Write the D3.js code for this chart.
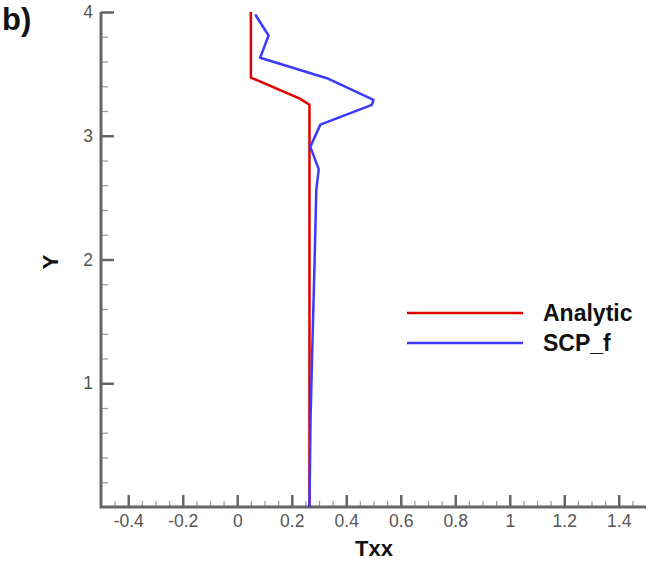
<!DOCTYPE html>
<html><head><meta charset="utf-8">
<script src="https://cdn.jsdelivr.net/npm/d3@7"></script>
<style>body{margin:0;background:#fff}svg{display:block}</style>
</head><body>
<script>
const xTicks = [-0.4,-0.2,0,0.2,0.4,0.6,0.8,1,1.2,1.4];
const yTicks = [1,2,3,4];
const seriesNames = ["Analytic","SCP_f"];
const seriesColors = ["#e00000","#3a3aff"];
const analyticX = [0.05,0.05,0.23,0.265,0.265];
const analyticY = [4.0,3.47,3.30,3.25,0.0];
const scpX = [0.066,0.115,0.084,0.329,0.50,0.494,0.305,0.268,0.299,0.29,0.284,0.275,0.269,0.265];
const scpY = [3.98,3.81,3.63,3.465,3.29,3.25,3.09,2.91,2.73,2.56,2.0,1.25,0.71,0.0];

const W=658,H=562;
const svg=d3.select("body").append("svg").attr("width",W).attr("height",H);
const x=d3.scaleLinear().domain([-0.5,1.5]).range([101,646]);
const y=d3.scaleLinear().domain([0,4]).range([507,12]);
const axisCol="#666", labCol="#555";
const font="'Liberation Sans', Arial, sans-serif";

const xMinor=d3.range(-0.45,1.5,0.05).filter(v=>Math.abs(Math.round(v*5)-v*5)>1e-6);
const yMinor=d3.range(0.2,4,0.2).filter(v=>Math.abs(Math.round(v)-v)>1e-6);

svg.append("g").attr("transform",`translate(0,${y(0)})`)
  .call(d3.axisTop(x).tickValues(xMinor).tickSize(6).tickFormat(""))
  .call(g=>g.select(".domain").remove())
  .call(g=>g.selectAll("line").attr("stroke","#999").attr("stroke-width",1.2));
svg.append("g").attr("transform",`translate(0,${y(0)})`)
  .call(d3.axisTop(x).tickValues(xTicks).tickSize(12).tickFormat(""))
  .call(g=>g.select(".domain").remove())
  .call(g=>g.selectAll("line").attr("stroke",axisCol).attr("stroke-width",2.5));
svg.append("g").attr("transform",`translate(0,${y(0)})`)
  .call(d3.axisBottom(x).tickValues(xTicks).tickSize(0).tickPadding(8).tickFormat(d=>String(d)))
  .call(g=>g.select(".domain").remove())
  .call(g=>g.selectAll("text").attr("fill",labCol).attr("font-size",17.5).attr("font-family",font));

svg.append("g").attr("transform",`translate(${x(-0.5)},0)`)
  .call(d3.axisRight(y).tickValues(yMinor).tickSize(7).tickFormat(""))
  .call(g=>g.select(".domain").remove())
  .call(g=>g.selectAll("line").attr("stroke","#999").attr("stroke-width",1.2));
svg.append("g").attr("transform",`translate(${x(-0.5)},0)`)
  .call(d3.axisRight(y).tickValues(yTicks).tickSize(13).tickFormat(""))
  .call(g=>g.select(".domain").remove())
  .call(g=>g.selectAll("line").attr("stroke",axisCol).attr("stroke-width",2.5));
svg.append("g").attr("transform",`translate(${x(-0.5)},0)`)
  .call(d3.axisLeft(y).tickValues(yTicks).tickSize(0).tickPadding(8).tickFormat(d=>String(d)))
  .call(g=>g.select(".domain").remove())
  .call(g=>g.selectAll("text").attr("fill",labCol).attr("font-size",17.5).attr("font-family",font));

svg.append("path").attr("d",`M${x(-0.5)},${y(4)}V${y(0)}H${x(1.5)}`)
  .attr("fill","none").attr("stroke",axisCol).attr("stroke-width",3);

const line=d3.line().x(d=>x(d[0])).y(d=>y(d[1]));
const series=[d3.zip(analyticX,analyticY), d3.zip(scpX,scpY)];
series.forEach((s,i)=>{
  svg.append("path").datum(s).attr("d",line).attr("fill","none")
    .attr("stroke",seriesColors[i]).attr("stroke-width",2.5).attr("stroke-linejoin","round");
});

seriesNames.forEach((n,i)=>{
  const ly=313+i*30;
  svg.append("line").attr("x1",407).attr("x2",523).attr("y1",ly).attr("y2",ly)
    .attr("stroke",seriesColors[i]).attr("stroke-width",2.5);
  svg.append("text").attr("x",543).attr("y",ly+8).text(n)
    .attr("font-family",font).attr("font-weight","bold").attr("font-size",23).attr("fill","#111");
});

svg.append("text").attr("x",374).attr("y",556).attr("text-anchor","middle").text("Txx")
  .attr("font-family",font).attr("font-weight","bold").attr("font-size",22).attr("fill","#111");
svg.append("text").attr("transform","translate(58,262) rotate(-90)").attr("text-anchor","middle").text("Y")
  .attr("font-family",font).attr("font-weight","bold").attr("font-size",22).attr("fill","#111");
svg.append("text").attr("x",2).attr("y",30).text("b)")
  .attr("font-family",font).attr("font-weight","bold").attr("font-size",31).attr("fill","#111");
</script>
</body></html>
